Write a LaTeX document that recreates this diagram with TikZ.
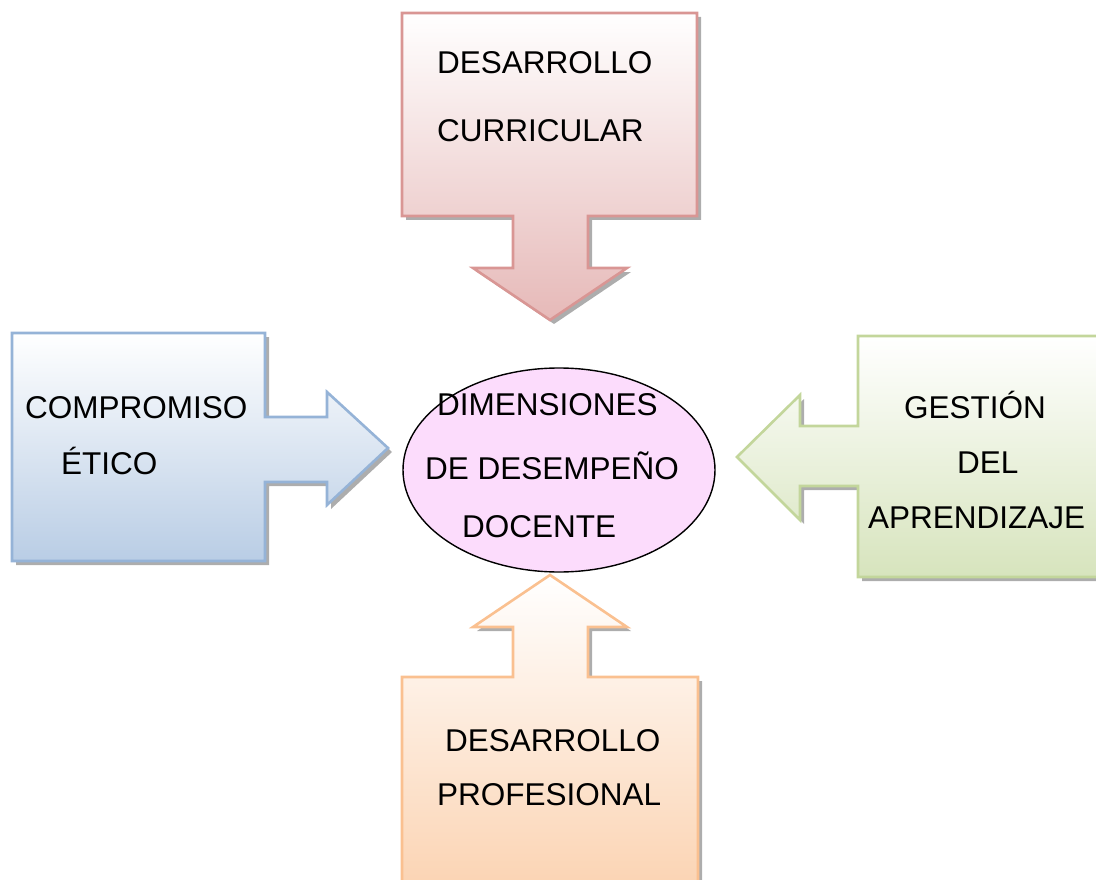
\documentclass[tikz,border=0pt]{standalone}
\usepackage{fontspec}
\setmainfont{Liberation Sans}
\usetikzlibrary{shapes.geometric,shadows}

\definecolor{curricularline}{HTML}{D99694}
\definecolor{curricularfill}{HTML}{E6B9B8}
\definecolor{eticoline}{HTML}{95B3D7}
\definecolor{eticofill}{HTML}{B9CDE5}
\definecolor{gestionline}{HTML}{C3D69B}
\definecolor{gestionfill}{HTML}{D7E4BD}
\definecolor{profline}{HTML}{FAC090}
\definecolor{proffill}{HTML}{FBD2B0}
\definecolor{dimfill}{HTML}{FCDCFC}

\tikzset{
  dimtext/.style={anchor=base west, inner sep=0pt, font=\fontsize{31.5}{38}\selectfont},
  blockarrow/.style={line width=2.6pt, line join=miter,
    drop shadow={shadow xshift=4pt, shadow yshift=-4pt, fill=black, opacity=.32}},
}

\begin{document}
\begin{tikzpicture}[x=1pt, y=-1pt]
\useasboundingbox (0,0) rectangle (1096,880);
\clip (0,0) rectangle (1096,880);

% desarrollo curricular
\path[blockarrow, draw=curricularline, top color=white, bottom color=curricularfill]
  (402,13) -- (697,13) -- (697,216) -- (588,216) -- (588,268) -- (627,268)
  -- (550,320) -- (473,268) -- (513,268) -- (513,216) -- (402,216) -- cycle;
\node[dimtext] (curr1) at (437,74) {DESARROLLO};
\node[dimtext] (curr2) at (437,142) {CURRICULAR};

% compromiso etico
\path[blockarrow, draw=eticoline, top color=white, bottom color=eticofill]
  (12,333) -- (265,333) -- (265,417) -- (327,417) -- (327,392) -- (388,448)
  -- (327,505) -- (327,482) -- (265,482) -- (265,561) -- (12,561) -- cycle;
\node[dimtext] (etico1) at (25,418) {COMPROMISO};
\node[dimtext] (etico2) at (61,474) {ÉTICO};

% gestion del aprendizaje
\path[blockarrow, draw=gestionline, top color=white, bottom color=gestionfill]
  (1110,336) -- (858,336) -- (858,426) -- (800,426) -- (800,395) -- (737,457)
  -- (800,520) -- (800,486) -- (858,486) -- (858,577) -- (1110,577);
\node[dimtext] (gest1) at (904,418) {GESTIÓN};
\node[dimtext] (gest2) at (957,473) {DEL};
\node[dimtext] (gest3) at (868,528) {APRENDIZAJE};

% desarrollo profesional
\path[blockarrow, draw=profline, top color=white, bottom color=proffill]
  (402,900) -- (402,677) -- (513,677) -- (513,627) -- (473,627) -- (550,575)
  -- (627,627) -- (588,627) -- (588,677) -- (698,677) -- (698,900);
\node[dimtext] (prof1) at (445,751) {DESARROLLO};
\node[dimtext] (prof2) at (437,805) {PROFESIONAL};

% centro
\node[draw, ellipse, fill=dimfill, line width=1.4pt,
  minimum width=312pt, minimum height=204pt] (dimensiones) at (559,470) {};
\node[dimtext] (dim1) at (437,415) {DIMENSIONES};
\node[dimtext] (dim2) at (425,479) {DE DESEMPEÑO};
\node[dimtext] (dim3) at (462,537) {DOCENTE};
\end{tikzpicture}
\end{document}
